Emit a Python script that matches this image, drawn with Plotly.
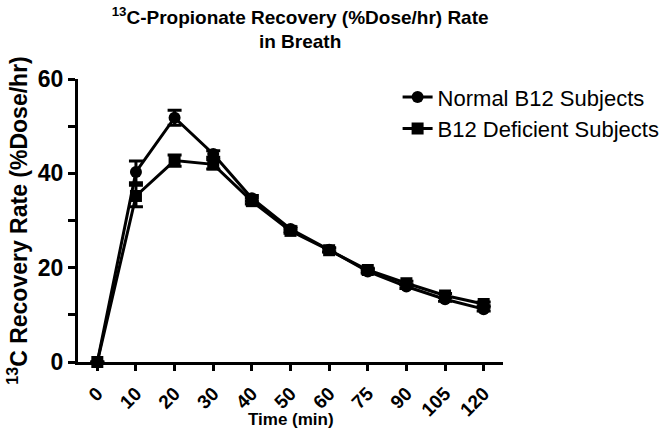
import plotly.graph_objects as go

time_labels = ["0", "10", "20", "30", "40", "50", "60", "75", "90", "105", "120"]
normal_vals = [0, 40.3, 51.8, 44.1, 34.7, 28.2, 23.8, 19.2, 16.0, 13.3, 11.2]
normal_err = [0, 2.3, 1.6, 0.7, 0.6, 0.5, 0.4, 0.4, 0.4, 0.4, 0.4]
def_vals = [0, 35.2, 42.7, 41.9, 34.1, 27.8, 23.7, 19.5, 16.7, 14.1, 12.3]
def_err = [0, 2.3, 1.2, 1.0, 0.6, 0.5, 0.4, 0.4, 0.4, 0.4, 0.4]
x_title = "<b>Time (min)</b>"

font_family = "Liberation Sans, Arial, sans-serif"

fig = go.Figure()
fig.add_trace(go.Scatter(
    x=time_labels, y=normal_vals, name="Normal B12 Subjects",
    mode="lines+markers",
    line=dict(color="black", width=3),
    marker=dict(symbol="circle", size=12, color="black"),
    error_y=dict(type="data", array=normal_err, color="black", thickness=3, width=7),
    cliponaxis=False,
))
fig.add_trace(go.Scatter(
    x=time_labels, y=def_vals, name="B12 Deficient Subjects",
    mode="lines+markers",
    line=dict(color="black", width=3),
    marker=dict(symbol="square", size=12, color="black"),
    error_y=dict(type="data", array=def_err, color="black", thickness=3, width=7),
    cliponaxis=False,
))

fig.update_layout(
    width=664, height=430,
    margin=dict(l=78, r=161, t=79, b=68, autoexpand=False),
    plot_bgcolor="white", paper_bgcolor="white",
    font=dict(family=font_family, color="black"),
    title=dict(
        text="<b><sup>13</sup>C-Propionate Recovery (%Dose/hr) Rate<br>in Breath</b>",
        x=0.452, xref="container", xanchor="center",
        y=0.945, yref="container", yanchor="top",
        font=dict(size=19, family=font_family, color="black"),
    ),
    showlegend=True,
    legend=dict(
        x=0.752, y=1.01, xanchor="left", yanchor="top",
        font=dict(size=22, family=font_family, color="black"),
        bgcolor="rgba(0,0,0,0)",
    ),
    xaxis=dict(
        type="category", range=[-0.5, 10.5], automargin=False,
        showline=True, linecolor="black", linewidth=3,
        ticks="outside", ticklen=6, tickwidth=3, tickcolor="black",
        tickangle=-45, ticklabelstandoff=4, showgrid=False, zeroline=False,
        tickfont=dict(size=19, family=font_family, color="black", weight="bold"),
    ),
    yaxis=dict(
        range=[0, 60], tickvals=[0, 20, 40, 60], automargin=False,
        showline=True, linecolor="black", linewidth=3,
        ticks="outside", ticklen=7, tickwidth=3, tickcolor="black",
        minor=dict(ticks="outside", tickvals=[10, 30, 50], ticklen=7, tickwidth=3, tickcolor="black"),
        showgrid=False, zeroline=False,
        tickfont=dict(size=23, family=font_family, color="black", weight="bold"),
        title=dict(text="<b><sup>13</sup>C Recovery Rate (%Dose/hr)</b>", font=dict(size=23, family=font_family, color="black"), standoff=4),
    ),
    annotations=[dict(
        text=x_title, xref="paper", yref="paper", x=0.5, y=-0.203,
        xanchor="center", yanchor="middle", showarrow=False,
        font=dict(size=17, family=font_family, color="black"),
    )],
)

fig.write_html("out.html")
